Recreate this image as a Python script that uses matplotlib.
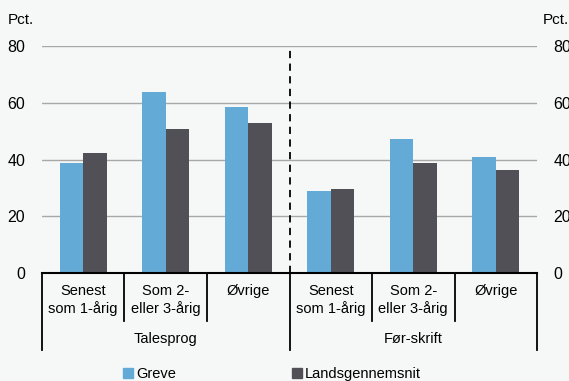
import matplotlib
matplotlib.use("Agg")
import matplotlib.pyplot as plt
import matplotlib.transforms as mtransforms
from matplotlib.patches import Patch
import numpy as np

plt.rcParams["font.family"] = ["Liberation Sans", "DejaVu Sans"]

# data
categories = ["Senest\nsom 1-årig", "Som 2-\neller 3-årig", "Øvrige",
              "Senest\nsom 1-årig", "Som 2-\neller 3-årig", "Øvrige"]
groups = ["Talesprog", "Før-skrift"]
greve = [38.9, 63.9, 58.7, 29.1, 47.2, 41.1]
lands = [42.2, 50.9, 53.1, 29.8, 38.7, 36.5]
yticks = [0, 20, 40, 60, 80]

BLUE = "#64aad6"
DARK = "#505056"
BG = "#f6f8f8"

fig = plt.figure(figsize=(5.69, 3.81), dpi=100, facecolor=BG)
ax = fig.add_axes([0.0738, 0.2835, 0.87, 0.595], facecolor=BG)

x = np.arange(len(categories))
w = 0.285
ax.bar(x - w / 2, greve, w, color=BLUE, zorder=3)
ax.bar(x + w / 2, lands, w, color=DARK, zorder=3)

ax.set_xlim(-0.5, len(categories) - 0.5)
ax.set_ylim(0, 80)
ax.set_yticks(yticks)
ax.yaxis.grid(True, color="#a8a8a8", lw=1, zorder=0)
for s in ["top", "right", "left"]:
    ax.spines[s].set_visible(False)
ax.spines["bottom"].set_color("black")
ax.spines["bottom"].set_linewidth(1.5)
ax.spines["bottom"].set_zorder(4)
ax.tick_params(axis="y", length=0, labelsize=11.5, pad=12,
               labelright=True, right=False)
ax.tick_params(axis="x", length=0, labelbottom=False)

# dashed divider between the two groups
ax.axvline(2.5, color="black", ls=(0, (4, 3)), lw=1.3, zorder=4)

fig.text(8 / 569, 1 - 20 / 381, "Pct.", fontsize=11, va="center", ha="left")
fig.text(543 / 569, 1 - 20 / 381, "Pct.", fontsize=11, va="center", ha="left")

# two-level category axis
tr = mtransforms.blended_transform_factory(ax.transData, fig.transFigure)
y0 = 1 - 273 / 381
y_in = 1 - 321 / 381
y_out = 1 - 350 / 381
for i in range(len(categories) + 1):
    xb = i - 0.5
    bottom = y_out if i % 3 == 0 else y_in
    ax.plot([xb, xb], [y0, bottom], color="black", lw=1.3,
            transform=tr, clip_on=False)
for i, lab in enumerate(categories):
    ax.text(i, 1 - 284 / 381, lab, transform=tr, ha="center", va="top",
            fontsize=10.5, linespacing=1.25)
for j, g in enumerate(groups):
    ax.text(3 * j + 1, 1 - 339 / 381, g, transform=tr, ha="center",
            va="center", fontsize=10.5)

handles = [Patch(color=BLUE, label="Greve"),
           Patch(color=DARK, label="Landsgennemsnit")]
fig.legend(handles=handles, loc="center left", ncol=2, frameon=False,
           bbox_to_anchor=(123 / 569, 1 - 374 / 381), fontsize=10.5,
           borderaxespad=0, borderpad=0,
           handlelength=0.7, handleheight=0.7, handletextpad=0.2,
           columnspacing=7.95)

fig.savefig("out.png", dpi=100, facecolor=BG)
